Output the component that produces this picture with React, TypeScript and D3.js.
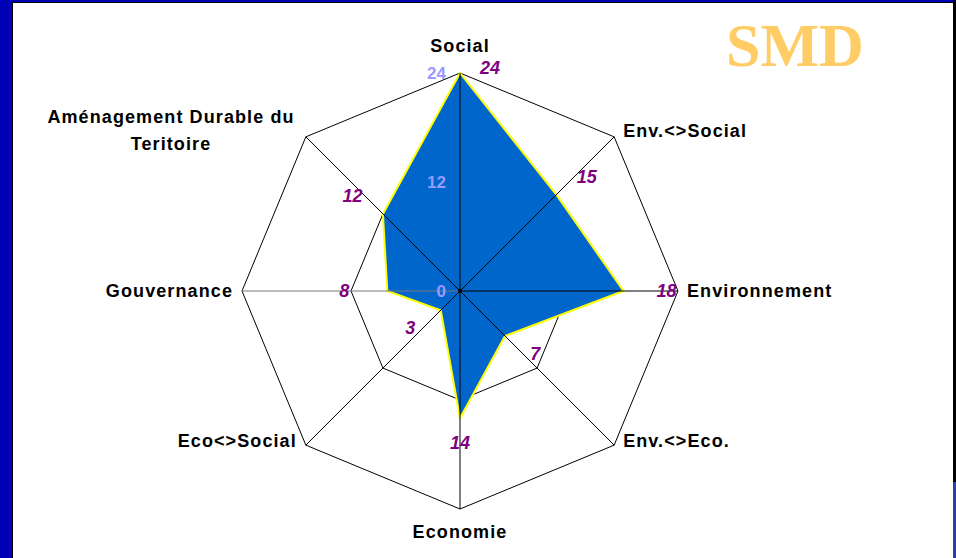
import React from 'react';
import * as d3 from 'd3';

const categories = [
  'Social',
  'Env.<>Social',
  'Environnement',
  'Env.<>Eco.',
  'Economie',
  'Eco<>Social',
  'Gouvernance',
  'Aménagement Durable du|Teritoire',
];
const values = [24, 15, 18, 7, 14, 3, 8, 12];
const gridTicks = [0, 12, 24];

const W = 956;
const H = 558;
const cx = 460;
const cy = 291;
const R = 218;

const App = () => {
  const r = d3.scaleLinear().domain([0, 24]).range([0, R]);
  const angle = d3
    .scaleLinear()
    .domain([0, categories.length])
    .range([0, 2 * Math.PI]);

  const pt = (i: number, rad: number): [number, number] => [
    cx + rad * Math.sin(angle(i)),
    cy - rad * Math.cos(angle(i)),
  ];

  const radial = d3
    .lineRadial<number>()
    .angle((_, i) => angle(i))
    .radius((d) => r(d))
    .curve(d3.curveLinearClosed);

  const ring = (v: number) =>
    d3
      .lineRadial<string>()
      .angle((_, i) => angle(i))
      .radius(() => r(v))
      .curve(d3.curveLinearClosed)(categories);

  const font = "'Liberation Sans', Arial, sans-serif";

  return (
    <svg
      width={W}
      height={H}
      style={{ position: 'absolute', left: 0, top: 0 }}
    >
      <rect x={0} y={0} width={W} height={H} fill="#0000b4" />
      <rect x={953} y={0} width={3} height={482} fill="#000" />
      <rect x={953} y={482} width={3} height={76} fill="#2a40a8" />
      <rect x={12} y={2} width={941} height={560} fill="#000" />
      <rect x={13} y={3} width={940} height={560} fill="#fff" />

      <text
        x={726}
        y={66}
        fontFamily="'Liberation Serif', 'Times New Roman', serif"
        fontWeight="bold"
        fontSize={62}
        fill="#ffcc66"
      >
        SMD
      </text>

      {/* rings sit under the area, spokes go over it */}
      <g transform={`translate(${cx},${cy})`}>
        {gridTicks
          .filter((t) => t > 0)
          .map((t) => (
            <path key={t} d={ring(t) || ''} fill="none" stroke="#000" strokeWidth={1} />
          ))}
        <path d={radial(values) || ''} fill="#0066cc" stroke="#ffff00" strokeWidth={2} />
      </g>

      {categories.map((c, i) => {
        const [x, y] = pt(i, R);
        return (
          <line
            key={c}
            x1={cx}
            y1={cy}
            x2={x}
            y2={y}
            stroke={i === 6 ? '#777' : '#000'}
            strokeWidth={1}
          />
        );
      })}
      <circle cx={cx} cy={cy} r={2} fill="#000" />

      {gridTicks.map((t) => (
        <text
          key={t}
          x={cx - 14}
          y={cy - r(t) + 6}
          textAnchor="end"
          fontFamily={font}
          fontWeight="bold"
          fontSize={17}
          fill="#9999ff"
        >
          {t}
        </text>
      ))}

      {values.map((v, i) => {
        const a = angle(i);
        const s = Math.sin(a);
        const c = Math.cos(a);
        let [x, y] = pt(i, r(v));
        x += s * 43;
        y -= c * 25;
        if (i === 0) {
          x = cx + 30;
          y = cy - r(v) - 5;
        }
        return (
          <text
            key={i}
            x={x}
            y={y + 6}
            textAnchor="middle"
            fontFamily={font}
            fontWeight="bold"
            fontStyle="italic"
            fontSize={18}
            fill="#800080"
          >
            {v}
          </text>
        );
      })}

      {categories.map((c, i) => {
        const s = Math.sin(angle(i));
        const [vx, vy] = pt(i, R);
        const lines = c.split('|');
        let x = vx + (Math.abs(s) > 0.1 ? Math.sign(s) * 9 : 0);
        let y = vy + 6;
        let anchor = Math.abs(s) < 0.1 ? 'middle' : s > 0 ? 'start' : 'end';
        if (i === 0) y = vy - 21;
        if (i === 4) y = vy + 29;
        if (i === 1) y = vy;
        if (i === 3 || i === 5) y = vy + 2;
        if (i === 7) {
          x = 171;
          y = vy - 14;
          anchor = 'middle';
        }
        return (
          <text
            key={c}
            x={x}
            y={y}
            textAnchor={anchor}
            fontFamily={font}
            fontWeight="bold"
            fontSize={18}
            letterSpacing={1.1}
            fill="#000"
          >
            {lines.map((l, k) => (
              <tspan key={k} x={x} dy={k === 0 ? 0 : 27}>
                {l}
              </tspan>
            ))}
          </text>
        );
      })}
    </svg>
  );
};

export default App;
